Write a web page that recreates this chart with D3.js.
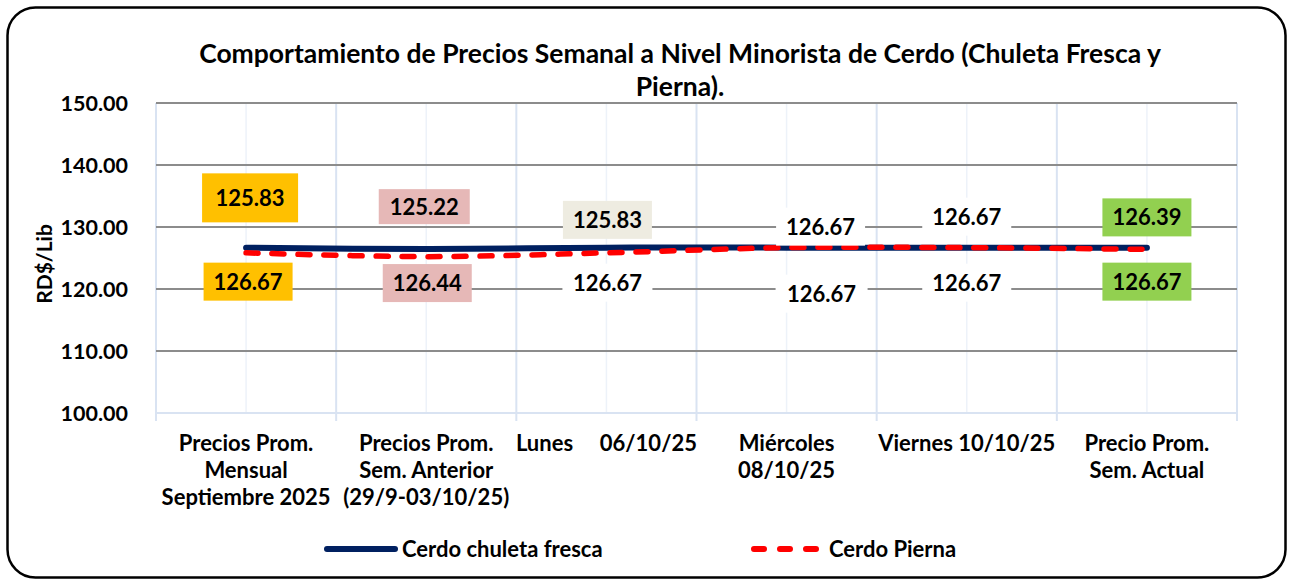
<!DOCTYPE html>
<html>
<head>
<meta charset="utf-8">
<script src="https://cdn.jsdelivr.net/npm/d3@7"></script>
<style>
  body { margin: 0; background: #fff; }
  svg { display: block; font-family: Lato, "Open Sans", sans-serif; font-weight: bold; }
</style>
</head>
<body>
<svg id="chart" width="1291" height="582"></svg>
<script>
// chart values
var categories = [
    ["Precios Prom.", "Mensual", "Septiembre 2025"],
    ["Precios Prom.", "Sem. Anterior", "(29/9-03/10/25)"],
    ["Lunes     06/10/25"],
    ["Miércoles", "08/10/25"],
    ["Viernes 10/10/25"],
    ["Precio Prom.", "Sem. Actual"]
];
var chuleta = [126.67, 126.44, 126.67, 126.67, 126.67, 126.67];
var pierna = [125.83, 125.22, 125.83, 126.67, 126.67, 126.39];
var yTicks = [100, 110, 120, 130, 140, 150];
var seriesNames = ["Cerdo chuleta fresca", "Cerdo Pierna"];
var titleLines = ["Comportamiento de Precios Semanal a Nivel Minorista de Cerdo (Chuleta Fresca y", "Pierna)."];

// label box fills (Excel styled them by hand)
var piernaFills = ["#FFC000", "#E6B8B7", "#EEECE1", "#FFFFFF", "#FFFFFF", "#92D050"];
var chuletaFills = ["#FFC000", "#E6B8B7", "#FFFFFF", "#FFFFFF", "#FFFFFF", "#92D050"];
// hand placed label offsets from the points: [dx, dy, w, h]
var piernaLabelPos = [[4, -55, 96, 49], [-2, -50, 91, 35], [1, -33, 89, 38], [34, -21, 89, 38], [0, -31, 89, 38], [0, -32, 89, 38]];
var chuletaLabelPos = [[2, 34, 89, 38], [1, 34, 89, 38], [1, 35, 90, 38], [35, 46, 92, 38], [0, 35, 89, 38], [0, 34, 89, 38]];

var svg = d3.select('#chart');
var mLeft = 156, mRight = 1237, mTop = 103, mBottom = 413;

var x = d3.scaleBand().domain(d3.range(categories.length)).range([mLeft, mRight]);
var y = d3.scaleLinear().domain([100, 150]).range([mBottom, mTop]);
var xc = function(i) { return x(i) + x.bandwidth() / 2 };

// outer frame
svg.append('rect').attr('x', 7.5).attr('y', 7.5).attr('width', 1278).attr('height', 570)
    .attr('rx', 28).attr('fill', '#fff').attr('stroke', '#000').attr('stroke-width', 2.5);

// title
svg.append('g').selectAll('text').data(titleLines).enter().append('text')
    .attr('x', 680).attr('y', function(d, i) { return 63 + i * 33 })
    .attr('text-anchor', 'middle').attr('font-size', 26.5).attr('fill', '#000')
    .text(function(d) { return d });

// vertical gridlines: centers (faint) and band edges (light blue, with ticks)
svg.append('g').selectAll('line').data(d3.range(categories.length)).enter().append('line')
    .attr('x1', xc).attr('x2', xc).attr('y1', mTop).attr('y2', mBottom)
    .attr('stroke', '#EDF2F9').attr('stroke-width', 1.5);
var edges = d3.range(categories.length + 1).map(function(i) { return i < categories.length ? x(i) : mRight });
svg.append('g').selectAll('line').data(edges).enter().append('line')
    .attr('x1', function(d) { return d }).attr('x2', function(d) { return d })
    .attr('y1', mTop).attr('y2', mBottom + 8)
    .attr('stroke', '#D9E3F2').attr('stroke-width', 2);

// horizontal gridlines
svg.append('g').selectAll('line').data(yTicks).enter().append('line')
    .attr('x1', mLeft).attr('x2', mRight)
    .attr('y1', function(d) { return y(d) }).attr('y2', function(d) { return y(d) })
    .attr('stroke', function(d) { return d == 100 ? '#D9E3F2' : '#8C8C8C' })
    .attr('stroke-width', 2);

// y axis
var yAxis = svg.append('g').attr('transform', 'translate(' + (mLeft - 25) + ',0)')
    .call(d3.axisLeft(y).tickValues(yTicks).tickSize(0).tickFormat(d3.format('.2f')));
yAxis.select('.domain').remove();
yAxis.selectAll('text').attr('font-size', 21.5).attr('font-family', 'Lato').attr('font-weight', 'bold')
    .attr('fill', '#000').attr('dy', '0.36em');

svg.append('text').attr('transform', 'translate(52,264) rotate(-90)')
    .attr('text-anchor', 'middle').attr('font-size', 21).text('RD$/Lib');

// x axis labels
var xLab = svg.append('g').selectAll('text').data(categories).enter().append('text')
    .attr('text-anchor', 'middle').attr('font-size', 22).attr('xml:space', 'preserve')
    .style('white-space', 'pre');
xLab.selectAll('tspan').data(function(d, i) { return d.map(function(t) { return [t, i] }) })
    .enter().append('tspan')
    .attr('x', function(d) { return xc(d[1]) })
    .attr('y', function(d, j) { return 451 + j * 27 })
    .text(function(d) { return d[0] });

// lines
var line = d3.line().x(function(d, i) { return xc(i) }).y(function(d) { return y(d) })
    .curve(d3.curveCatmullRom);
svg.append('path').datum(chuleta).attr('d', line).attr('fill', 'none')
    .attr('stroke', '#002060').attr('stroke-width', 6).attr('stroke-linecap', 'round');
svg.append('path').datum(pierna).attr('d', line).attr('fill', 'none')
    .attr('stroke', '#FF0000').attr('stroke-width', 5.5).attr('stroke-linecap', 'round')
    .attr('stroke-dasharray', '12,14');

// data labels
function drawLabels(values, pos, fills) {
    var g = svg.append('g').selectAll('g').data(values).enter().append('g')
        .attr('transform', function(d, i) {
            return 'translate(' + (xc(i) + pos[i][0]) + ',' + (y(d) + pos[i][1]) + ')' });
    g.append('rect')
        .attr('x', function(d, i) { return -pos[i][2] / 2 }).attr('y', function(d, i) { return -pos[i][3] / 2 })
        .attr('width', function(d, i) { return pos[i][2] }).attr('height', function(d, i) { return pos[i][3] })
        .attr('fill', function(d, i) { return fills[i] });
    g.append('text').attr('text-anchor', 'middle').attr('dy', '0.36em').attr('font-size', 22)
        .text(function(d) { return d3.format('.2f')(d) });
}
drawLabels(pierna, piernaLabelPos, piernaFills);
drawLabels(chuleta, chuletaLabelPos, chuletaFills);

// legend
var legend = svg.append('g').selectAll('g').data(seriesNames).enter().append('g')
    .attr('transform', function(d, i) { return 'translate(' + (i == 0 ? 327 : 754) + ',549)' });
legend.append('line').attr('x1', 0).attr('x2', 68)
    .attr('stroke', function(d, i) { return i == 0 ? '#002060' : '#FF0000' })
    .attr('stroke-width', 6).attr('stroke-linecap', 'round')
    .attr('stroke-dasharray', function(d, i) { return i == 0 ? null : '10,16' });
legend.append('text').attr('x', 75).attr('dy', '0.36em').attr('font-size', 22)
    .text(function(d) { return d });
</script>
</body>
</html>
